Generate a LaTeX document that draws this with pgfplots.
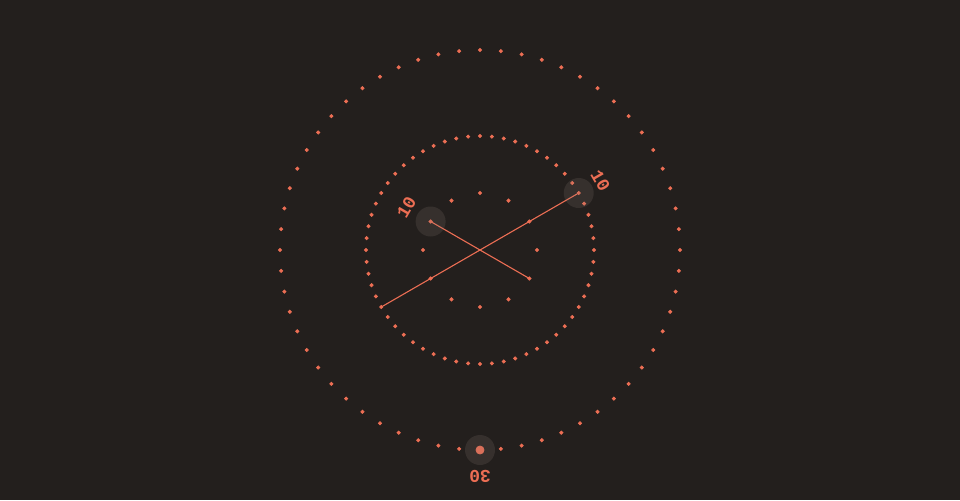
\documentclass[border=0pt]{standalone}
\usepackage{fontspec}
\setmainfont{Liberation Mono}
\newfontfamily\lbl[BoldFont={Liberation Mono Bold}]{Liberation Mono}
\usepackage{pgfplots}
\pgfplotsset{compat=1.18}
\usepgfplotslibrary{polar}
\definecolor{bg}{HTML}{231F1D}
\definecolor{acc}{HTML}{EC6E54}
\definecolor{halo}{HTML}{8A7A74}
\begin{document}
\begin{tikzpicture}
\begin{axis}[
  x=0.5pt, y=0.5pt,
  xmin=-480, xmax=480, ymin=-250, ymax=250,
  scale only axis, hide axis, clip=true,
]
% background
\addplot[fill=bg, draw=none] coordinates {(-480,-250) (480,-250) (480,250) (-480,250)} -- cycle;
% outer ring (seconds), r = 200
\addplot[data cs=polar, only marks, mark=*, mark size=0.8pt, color=acc] coordinates {
(0,200) (6,200) (12,200) (18,200) (24,200) (30,200) (36,200) (42,200) (48,200) (54,200)
(60,200) (66,200) (72,200) (78,200) (84,200) (90,200) (96,200) (102,200) (108,200) (114,200)
(120,200) (126,200) (132,200) (138,200) (144,200) (150,200) (156,200) (162,200) (168,200) (174,200)
(180,200) (186,200) (192,200) (198,200) (204,200) (210,200) (216,200) (222,200) (228,200) (234,200)
(240,200) (246,200) (252,200) (258,200) (264,200) (276,200) (282,200) (288,200) (294,200)
(300,200) (306,200) (312,200) (318,200) (324,200) (330,200) (336,200) (342,200) (348,200) (354,200)
};
% inner ring (minutes), r = 114
\addplot[data cs=polar, only marks, mark=*, mark size=0.8pt, color=acc] coordinates {
(0,114) (6,114) (12,114) (18,114) (24,114) (30,114) (36,114) (42,114) (48,114) (54,114)
(60,114) (66,114) (72,114) (78,114) (84,114) (90,114) (96,114) (102,114) (108,114) (114,114)
(120,114) (126,114) (132,114) (138,114) (144,114) (150,114) (156,114) (162,114) (168,114) (174,114)
(180,114) (186,114) (192,114) (198,114) (204,114) (210,114) (216,114) (222,114) (228,114) (234,114)
(240,114) (246,114) (252,114) (258,114) (264,114) (270,114) (276,114) (282,114) (288,114) (294,114)
(300,114) (306,114) (312,114) (318,114) (324,114) (330,114) (336,114) (342,114) (348,114) (354,114)
};
% hour dots, r = 57
\addplot[data cs=polar, only marks, mark=*, mark size=0.8pt, color=acc] coordinates {
(0,57) (30,57) (60,57) (90,57) (120,57) (150,57) (180,57) (210,57) (240,57) (270,57) (300,57) (330,57)
};
% minute hand (10 min)
\addplot[data cs=polar, color=acc, line width=0.55pt, mark=none] coordinates {(210,114) (30,114)};
% hour hand (10 h)
\addplot[data cs=polar, color=acc, line width=0.55pt, mark=none] coordinates {(150,57) (330,57)};
% seconds dot (30 s)
\addplot[data cs=polar, only marks, mark=*, mark size=2pt, color=acc] coordinates {(270,200)};
% halos
\addplot[data cs=polar, only marks, mark=*, mark size=7.5pt, color=halo,
  mark options={line width=0pt, draw opacity=0, fill opacity=0.19}] coordinates {(150,57) (30,114) (270,200)};
% labels
\node[text=acc, rotate=60, font=\lbl\bfseries\fontsize{9}{11}\selectfont] at (axis cs:-73.6,42.5) {10};
\node[text=acc, rotate=-60, font=\lbl\bfseries\fontsize{9}{11}\selectfont] at (axis cs:120.4,69.5) {10};
\node[text=acc, rotate=180, font=\lbl\bfseries\fontsize{9}{11}\selectfont] at (axis cs:0,-226.5) {30};
\end{axis}
\end{tikzpicture}
\end{document}
